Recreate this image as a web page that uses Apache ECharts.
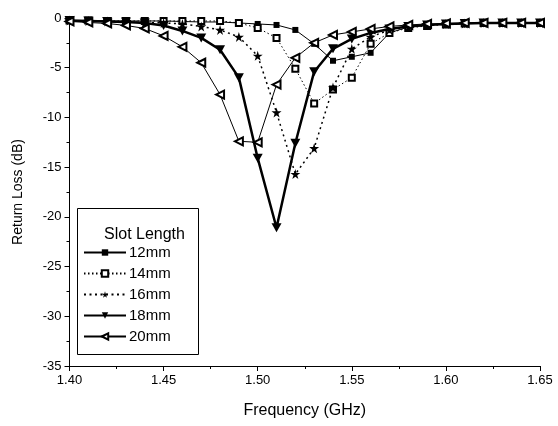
<!DOCTYPE html>
<html>
<head>
<meta charset="utf-8">
<script src="https://cdn.jsdelivr.net/npm/echarts@6/dist/echarts.min.js"></script>
<style>
  html, body { margin: 0; padding: 0; background: #fff; }
  #chart { width: 558px; height: 426px; }
</style>
</head>
<body>
<div id="chart"></div>
<script>
// Frequency sweep (GHz), one sample every 10 MHz
const freq = [1.40, 1.41, 1.42, 1.43, 1.44, 1.45, 1.46, 1.47, 1.48, 1.49,
              1.50, 1.51, 1.52, 1.53, 1.54, 1.55, 1.56, 1.57, 1.58, 1.59,
              1.60, 1.61, 1.62, 1.63, 1.64, 1.65];

// Return loss (dB) for each slot length
const rl12 = [-0.25, -0.25, -0.3, -0.3, -0.3, -0.3, -0.35, -0.4, -0.4, -0.5,
              -0.6, -0.7, -1.2, -2.6, -4.3, -3.9, -3.5, -1.5, -0.9, -0.7,
              -0.6, -0.55, -0.5, -0.5, -0.5, -0.5];
const rl14 = [-0.25, -0.25, -0.3, -0.3, -0.3, -0.3, -0.3, -0.3, -0.3, -0.5,
              -1.0, -2.0, -5.1, -8.6, -7.2, -6.0, -2.6, -1.5, -1.0, -0.8,
              -0.65, -0.55, -0.5, -0.5, -0.5, -0.5];
const rl16 = [-0.25, -0.3, -0.35, -0.4, -0.45, -0.5, -0.6, -0.85, -1.2, -1.9,
              -3.8, -9.5, -15.7, -13.1, -7.0, -3.1, -1.9, -1.2, -0.9, -0.7,
              -0.6, -0.55, -0.5, -0.5, -0.5, -0.5];
const rl18 = [-0.25, -0.3, -0.35, -0.4, -0.5, -0.75, -1.3, -2.0, -3.2, -6.0,
              -14.1, -21.1, -12.6, -5.4, -3.1, -2.1, -1.5, -1.1, -0.85, -0.7,
              -0.6, -0.55, -0.5, -0.5, -0.5, -0.5];
const rl20 = [-0.35, -0.45, -0.55, -0.75, -1.05, -1.8, -2.9, -4.5, -7.7, -12.4,
              -12.5, -6.7, -4.0, -2.5, -1.7, -1.4, -1.1, -0.85, -0.7, -0.6,
              -0.55, -0.5, -0.5, -0.5, -0.5, -0.5];

const seriesNames = ['12mm', '14mm', '16mm', '18mm', '20mm'];
const xTicks = { min: 1.40, max: 1.65, step: 0.05 };
const yTicks = { min: -35, max: 0, step: 5 };

const STAR = 'path://M50,0 L61,35 L98,35 L68,57 L79,91 L50,70 L21,91 L32,57 L2,35 L39,35 Z';
const FONT = 'Liberation Sans, Arial, sans-serif';

function pairs(ys) { return freq.map((f, i) => [f, ys[i]]); }

const chart = echarts.init(document.getElementById('chart'), null, { renderer: 'canvas' });

const common = {
  type: 'line',
  animation: false,
  showAllSymbol: true,
  emphasis: { disabled: true },
  z: 3
};

chart.setOption({
  backgroundColor: '#fff',
  animation: false,
  textStyle: { fontFamily: FONT, color: '#000' },
  grid: { left: 69.5, right: 18, top: 18, bottom: 60, containLabel: false },
  title: {
    text: 'Slot Length',
    left: 99, top: 222,
    z: 12,
    textStyle: { fontFamily: FONT, fontSize: 16, fontWeight: 'normal', color: '#000' }
  },
  graphic: [{
    type: 'rect',
    shape: { x: 77.5, y: 208.5, width: 121, height: 146 },
    style: { fill: 'transparent', stroke: '#000', lineWidth: 1 },
    z: 1
  }],
  legend: {
    data: seriesNames,
    orient: 'vertical',
    left: 83, top: 245,
    padding: 0,
    itemWidth: 42, itemHeight: 8,
    itemGap: 6,
    textStyle: { fontFamily: FONT, fontSize: 15, color: '#000', padding: [0, 0, 0, -2] },
    z: 11
  },
  xAxis: {
    type: 'value',
    min: xTicks.min, max: xTicks.max, interval: xTicks.step,
    name: 'Frequency (GHz)',
    nameLocation: 'middle', nameGap: 37,
    nameTextStyle: { fontFamily: FONT, fontSize: 16, color: '#000' },
    axisLine: { show: true, onZero: false, lineStyle: { color: '#000', width: 1 } },
    axisTick: { show: true, length: 5, lineStyle: { color: '#000' } },
    minorTick: { show: true, splitNumber: 2, length: 3, lineStyle: { color: '#000' } },
    splitLine: { show: false },
    axisLabel: {
      margin: 8, fontFamily: FONT, fontSize: 13, color: '#000',
      formatter: v => v.toFixed(2)
    }
  },
  yAxis: {
    type: 'value',
    min: yTicks.min, max: yTicks.max, interval: yTicks.step,
    name: 'Return Loss (dB)',
    nameLocation: 'middle', nameGap: 44, nameRotate: 90,
    nameTextStyle: { fontFamily: FONT, fontSize: 14, color: '#000' },
    axisLine: { show: true, onZero: false, lineStyle: { color: '#000', width: 1 } },
    axisTick: { show: true, length: 5, lineStyle: { color: '#000' } },
    minorTick: { show: true, splitNumber: 2, length: 3, lineStyle: { color: '#000' } },
    splitLine: { show: false },
    axisLabel: { margin: 8, fontFamily: FONT, fontSize: 13, color: '#000' }
  },
  series: [
    Object.assign({}, common, {
      name: seriesNames[0], data: pairs(rl12),
      symbol: 'rect', symbolSize: 6,
      itemStyle: { color: '#000' },
      lineStyle: { color: '#000', width: 1 }
    }),
    Object.assign({}, common, {
      name: seriesNames[1], data: pairs(rl14),
      symbol: 'emptyRect', symbolSize: 6,
      itemStyle: { color: '#000', borderColor: '#000', borderWidth: 1.1 },
      lineStyle: { color: '#000', width: 1, type: [1.5, 2.5] }
    }),
    Object.assign({}, common, {
      name: seriesNames[2], data: pairs(rl16),
      symbol: STAR, symbolSize: 10,
      itemStyle: { color: '#000' },
      lineStyle: { color: '#000', width: 1.5, type: [2, 3.5] }
    }),
    Object.assign({}, common, {
      name: seriesNames[3], data: pairs(rl18),
      symbol: 'triangle', symbolRotate: 180, symbolSize: [10, 9],
      itemStyle: { color: '#000' },
      lineStyle: { color: '#000', width: 2.5 }
    }),
    Object.assign({}, common, {
      name: seriesNames[4], data: pairs(rl20),
      symbol: 'emptyTriangle', symbolRotate: 90, symbolSize: [8, 8],
      itemStyle: { color: '#000', borderColor: '#000', borderWidth: 1.6 },
      lineStyle: { color: '#000', width: 1 }
    })
  ]
});
</script>
</body>
</html>
